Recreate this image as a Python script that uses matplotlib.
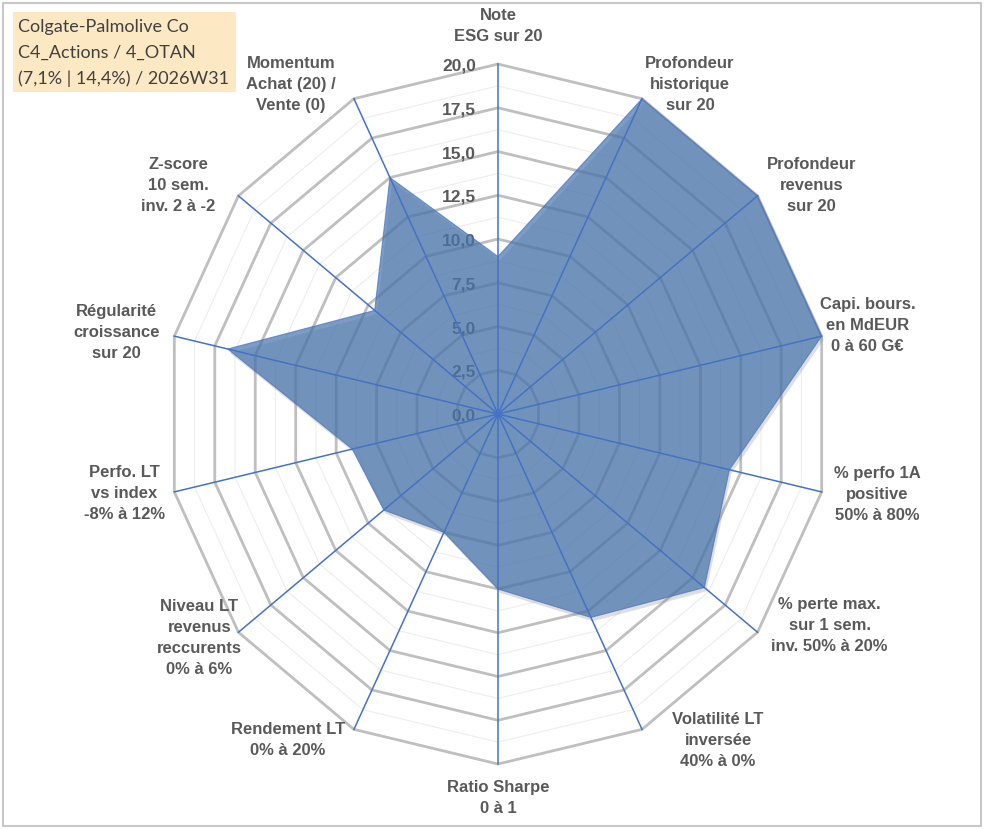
import numpy as np
import matplotlib.pyplot as plt
from matplotlib.patches import Polygon, Rectangle

# axes of the radar, clockwise from top
labels = [
    "Note\nESG sur 20",
    "Profondeur\nhistorique\nsur 20",
    "Profondeur\nrevenus\nsur 20",
    "Capi. bours.\nen MdEUR\n0 à 60 G€",
    "% perfo 1A\npositive\n50% à 80%",
    "% perte max.\nsur 1 sem.\ninv. 50% à 20%",
    "Volatilité LT\ninversée\n40% à 0%",
    "Ratio Sharpe\n0 à 1",
    "Rendement LT\n0% à 20%",
    "Niveau LT\nrevenus\nreccurents\n0% à 6%",
    "Perfo. LT\nvs index\n-8% à 12%",
    "Régularité\ncroissance\nsur 20",
    "Z-score\n10 sem.\ninv. 2 à -2",
    "Momentum\nAchat (20) /\nVente (0)",
]
values = [9.0, 20.0, 20.0, 20.0, 14.3, 15.9, 12.9, 10.0, 7.5, 8.8, 9.0, 16.7, 9.5, 15.0]
ticks = [0.0, 2.5, 5.0, 7.5, 10.0, 12.5, 15.0, 17.5, 20.0]
tick_labels = ["0,0", "2,5", "5,0", "7,5", "10,0", "12,5", "15,0", "17,5", "20,0"]
title_lines = ["Colgate-Palmolive Co", "C4_Actions / 4_OTAN", "(7,1% | 14,4%) / 2026W31"]

# label offsets from the spoke ends, in pixels
label_offsets = [(0, 38), (48, 14), (54, 10), (46, 11), (56, -3), (72, 7), (76, -11),
                 (0, -34), (-66, -11), (-39, -6), (-50, -2), (-58, 4), (-60, 10), (-63, 14)]

TXT = "#595959"
n = len(labels)
theta = np.arange(n) * 2 * np.pi / n
ux, uy = np.sin(theta), np.cos(theta)

fig = plt.figure(figsize=(9.91, 8.30), dpi=100)
ax = fig.add_axes([0, 0, 1, 1])
ax.set_xlim(-30.0, 29.70)
ax.set_ylim(-23.77, 23.66)
ax.axis("off")

# minor rings
for r in np.arange(1.25, 20, 2.5):
    ax.add_patch(Polygon(np.c_[r * ux, r * uy], closed=True, fill=False,
                         edgecolor="#EDEDED", lw=0.8, zorder=1))
# major rings
for r in ticks[1:]:
    ax.add_patch(Polygon(np.c_[r * ux, r * uy], closed=True, fill=False,
                         edgecolor="#BFBFBF", lw=2.0, zorder=2))

# tick labels on the top spoke
for t, tl in zip(ticks, tick_labels):
    ax.annotate(tl, (0, t), xytext=(-22, -2), textcoords="offset pixels",
                ha="right", va="center", fontsize=12.5, fontweight="bold",
                color=TXT, family="Liberation Sans", zorder=3)

# data polygon with a light shadow
pts = np.c_[np.array(values) * ux, np.array(values) * uy]
ax.add_patch(Polygon(pts + [0.12, -0.22], closed=True, facecolor="#7F7F7F",
                     edgecolor="none", alpha=0.25, zorder=3))
ax.add_patch(Polygon(pts, closed=True, facecolor="#4373AD", alpha=0.70,
                     edgecolor="#4472C4", lw=0.8, zorder=4))

# spokes
for x, y in zip(ux, uy):
    ax.plot([0, 20 * x], [0, 20 * y], color="#4472C4", lw=1.1, zorder=5)

# axis labels
for lab, x, y, off in zip(labels, ux, uy, label_offsets):
    ax.annotate(lab, (20 * x, 20 * y), xytext=off, textcoords="offset pixels",
                ha="center", va="center", fontsize=12, fontweight="bold",
                color=TXT, family="Liberation Sans", linespacing=1.5, zorder=6)

# title box
fig.patches.append(Rectangle((13 / 991, 1 - 92 / 830), 223 / 991, 80 / 830,
                             transform=fig.transFigure, facecolor="#FCE9C4",
                             edgecolor="none", zorder=0))
for i, line in enumerate(title_lines):
    fig.text(18 / 991, 1 - (27 + 26 * i) / 830, line, ha="left", va="center",
             fontsize=13, color="#404040", family="Lato")

# chart frame
fig.patches.append(Rectangle((3 / 991, 4 / 830), 978 / 991, 823 / 830,
                             transform=fig.transFigure, fill=False,
                             edgecolor="#C8C8C8", lw=1.5, zorder=0))

fig.savefig("out.png", dpi=100)
